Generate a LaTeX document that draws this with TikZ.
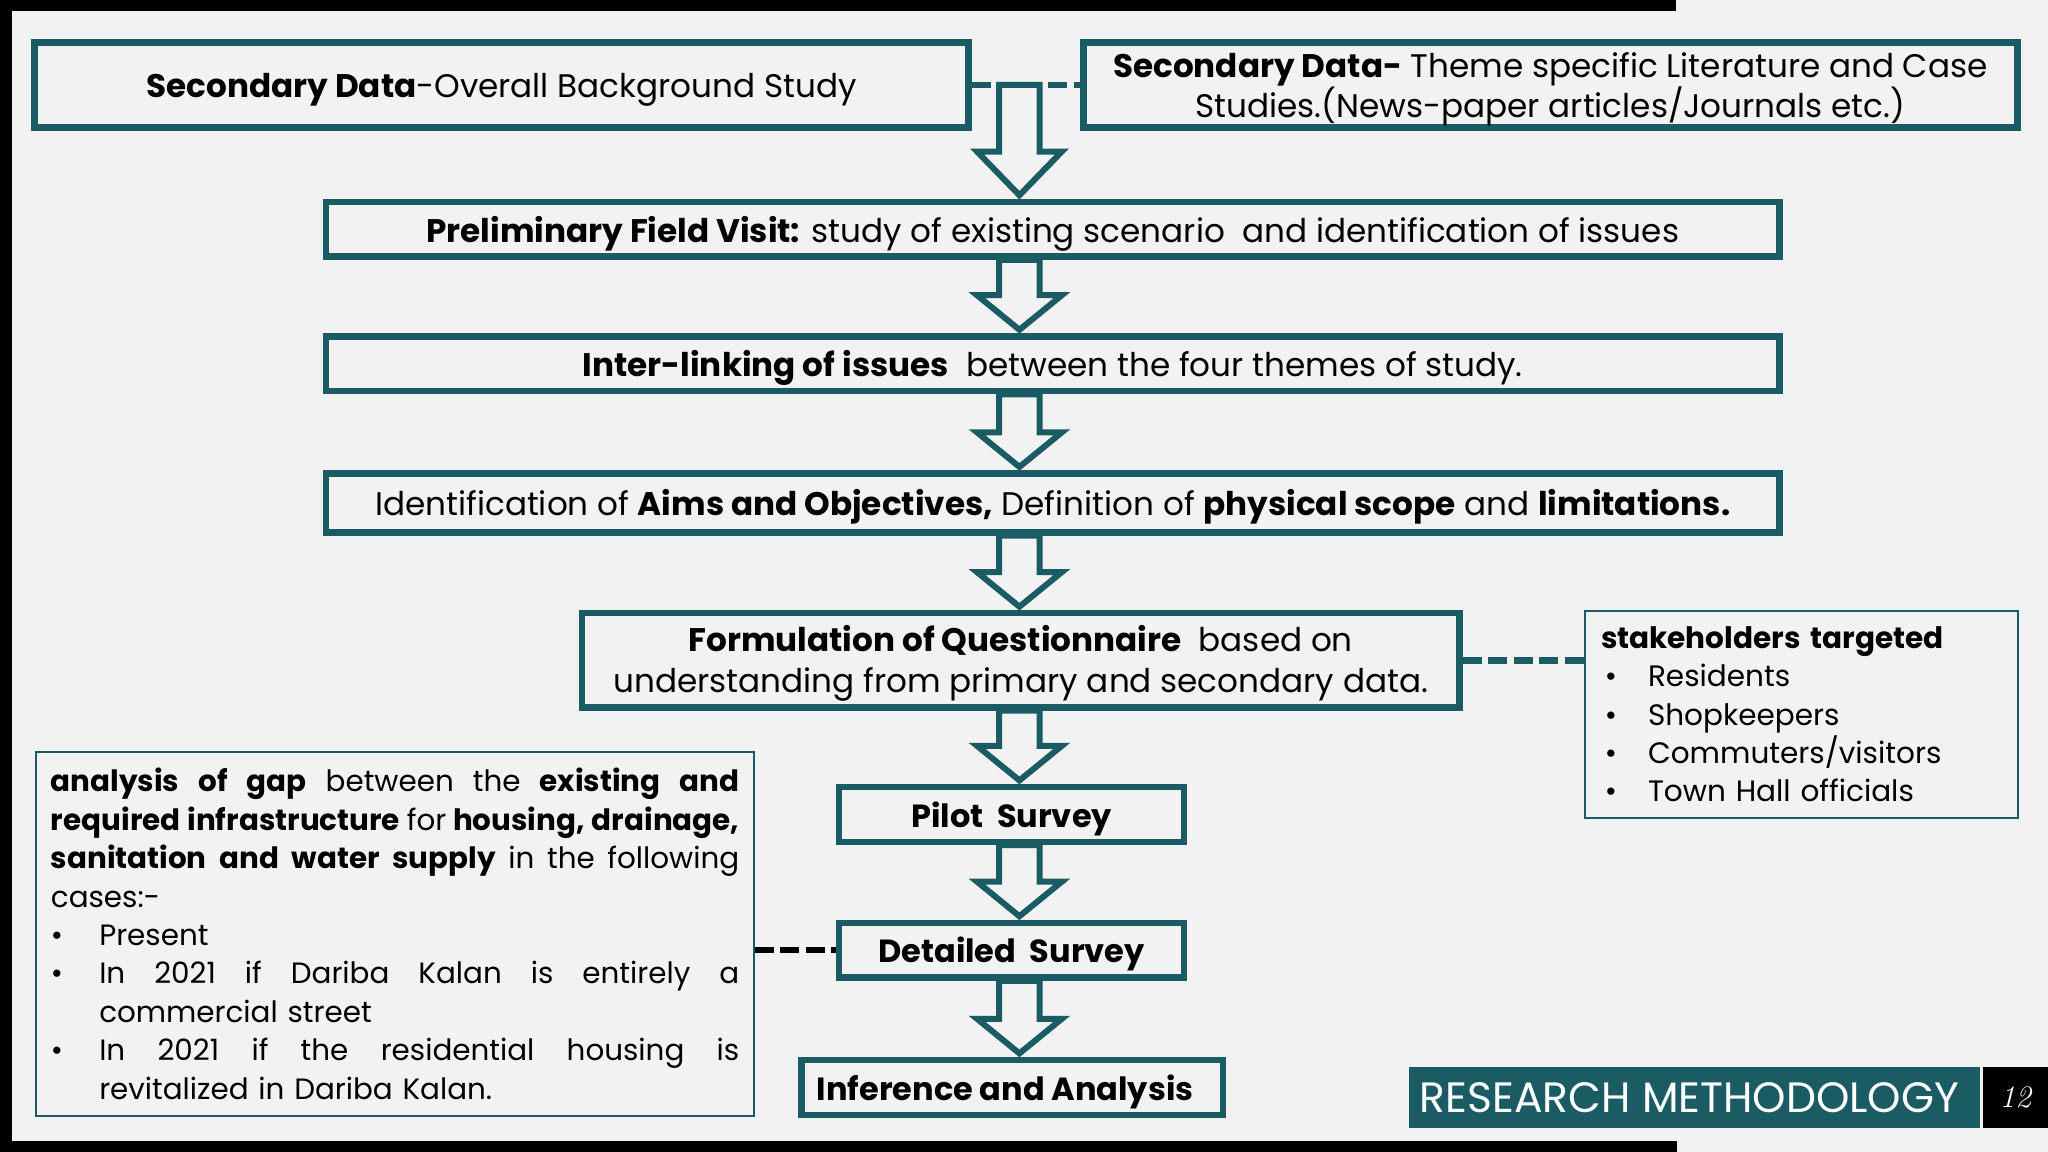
\documentclass[tikz,border=0pt]{standalone}
\usepackage{fontspec}
\setmainfont{Poppins}
\usetikzlibrary{calc}
\definecolor{teal0}{HTML}{1B5C64}
\definecolor{bgc}{HTML}{F2F2F3}
\tikzset{
  mainbox/.style={draw=teal0, line width=5pt, inner sep=0pt, align=center, text=black,
    font=\fontsize{25}{31}\selectfont, text height=20pt, text depth=0pt},
  framebox/.style={draw=teal0, line width=5pt, inner sep=0pt},
  boxtext/.style={inner sep=0pt, align=center, text=black, font=\fontsize{25}{31}\selectfont},
  smallbox/.style={mainbox, font=\fontsize{24.5}{31}\selectfont, text height=19.5pt},
  thinbox/.style={draw=teal0, line width=1.6pt, inner sep=0pt, align=left, text=black},
  arrowline/.style={draw=teal0, line width=4.6pt, fill=bgc, line join=miter},
  dashteal/.style={draw=teal0, line width=5pt, dash pattern=on 14.5pt off 5pt},
  dashblack/.style={draw=black, line width=5pt, dash pattern=on 14.5pt off 5pt},
}
% block arrow from point #1 (top) to point #2 (tip), head length #3
\newcommand\blockarrow[3]{%
  \draw[arrowline] let \p1=#1, \p2=#2 in
    (765pt,\y1) -- (765pt,\y2+#3pt) -- (748pt,\y2+#3pt) -- (780.5pt,\y2+2.5pt)
    -- (813pt,\y2+#3pt) -- (796pt,\y2+#3pt) -- (796pt,\y1) -- cycle;}
\newcommand\jline[2]{\makebox[#1][s]{\spaceskip=0.2em plus 1fil minus 0.1em\relax #2}}
\newcommand\bul[1]{\makebox[#1][l]{•}}
\begin{document}
\begin{tikzpicture}[x=1pt,y=-1pt]
\useasboundingbox (0,0) rectangle (1568,882);
\fill[bgc] (0,0) rectangle (1568,882);
\fill[black] (0,0) rectangle (1283,8.5);
\fill[black] (0,0) rectangle (9,882);
\fill[black] (0,873.5) rectangle (1284,882);

% boxes
\node[mainbox, minimum width=715pt, minimum height=65pt] (sdA) at (384,65)
  {\textbf{Secondary Data}-Overall Background Study};
\node[framebox, minimum width=715pt, minimum height=65pt] (sdB) at (1187,65) {};
\node[boxtext] (sdBtext) at ([yshift=-3.5pt]sdB.center)
  {\textbf{Secondary Data-} Theme specific Literature and Case\\Studies.(News-paper articles/Journals etc.)};
\node[mainbox, minimum width=1113pt, minimum height=42pt] (pfv) at (806,175.5)
  {\textbf{Preliminary Field Visit:} study of existing scenario\ \ and identification of issues};
\node[mainbox, minimum width=1113pt, minimum height=42pt] (inter) at (806,278.5)
  {\textbf{Inter-linking of issues}\ \ between the four themes of study.};
\node[mainbox, minimum width=1113pt, minimum height=45pt] (aims) at (806,385)
  {Identification of \textbf{Aims and Objectives,} Definition of \textbf{physical scope} and \textbf{limitations.}};
\node[framebox, minimum width=672pt, minimum height=72pt] (quest) at (781.5,505.5) {};
\node[boxtext] (questtext) at ([yshift=-2.5pt]quest.center)
  {\textbf{Formulation of Questionnaire}\ \ based on\\understanding from primary and secondary data.};
\node[smallbox, minimum width=264pt, minimum height=42pt] (pilot) at (774.5,623.5)
  {\textbf{Pilot\ \ Survey}};
\node[smallbox, minimum width=264pt, minimum height=42pt] (detail) at (774.5,727.5)
  {\textbf{Detailed\ \ Survey}};
\node[smallbox, minimum width=323pt, minimum height=42pt] (infer) at (775,832.5)
  {\textbf{Inference and Analysis}\hspace*{11pt}};

\node[thinbox, text width=307.5pt, inner xsep=12pt, minimum height=158.5pt,
  font=\fontsize{22.6}{29.3}\selectfont] (stake) at (1379.5,547)
  {\textbf{stakeholders targeted}\\
   \hspace*{3pt}\bul{33pt}Residents\\
   \hspace*{3pt}\bul{33pt}Shopkeepers\\
   \hspace*{3pt}\bul{33pt}Commuters/visitors\\
   \hspace*{3pt}\bul{33pt}Town Hall officials};

\node[thinbox, text width=527pt, inner xsep=11.25pt, minimum height=278.5pt,
  font=\fontsize{22.5}{29.4}\selectfont] (gap) at (302.5,715)
  {\jline{527pt}{\textbf{analysis of gap} between the \textbf{existing and}}\\
   \jline{527pt}{\textbf{required infrastructure} for \textbf{housing, drainage,}}\\
   \jline{527pt}{\textbf{sanitation and water supply} in the following}\\
   cases:-\\
   \bul{37pt}Present\\
   \bul{37pt}\jline{490pt}{In 2021 if Dariba Kalan is entirely a}\\
   \hspace*{37pt}commercial street\\
   \bul{37pt}\jline{490pt}{In 2021 if the residential housing is}\\
   \hspace*{37pt}revitalized in Dariba Kalan.};

% footer
\node[fill=teal0, minimum width=437pt, minimum height=47pt, inner sep=0pt] (rm) at (1297.5,840.5) {};
\node[text=white, font=\fontsize{32.5}{32.5}\selectfont, inner sep=0pt] (rmtext) at (1293.5,840.5) {RESEARCH METHODOLOGY};
\node[fill=black, minimum width=50pt, minimum height=47pt, inner sep=0pt, text=white,
  font=\fontsize{24}{24}\selectfont] (pg) at (1543,840.5) {\fontspec{Latin Modern Roman}\itshape 12};

% connectors
\coordinate (dj) at (780.5,65);
\draw[dashteal] (sdA.east) -- (sdB.west);
\blockarrow{(dj)}{(pfv.north)}{36}
\blockarrow{(pfv.south)}{(inter.north)}{29}
\blockarrow{(inter.south)}{(aims.north)}{29}
\blockarrow{(aims.south)}{(quest.north)}{29}
\blockarrow{(quest.south)}{(pilot.north)}{29}
\blockarrow{(pilot.south)}{(detail.north)}{29}
\blockarrow{(detail.south)}{(infer.north)}{29}
\draw[dashteal] (quest.east) -- (quest.east -| stake.west);
\draw[dashblack] (gap.east |- detail.west) -- (detail.west);
\end{tikzpicture}
\end{document}
